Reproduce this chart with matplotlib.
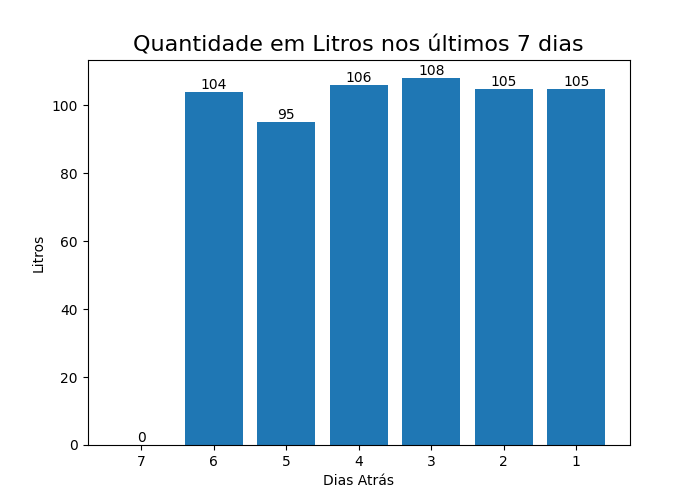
import matplotlib
matplotlib.use("Agg")
import matplotlib.pyplot as plt

# dias atras e litros consumidos
dias = ['7', '6', '5', '4', '3', '2', '1']
litros = [0, 104, 95, 106, 108, 105, 105]

fig, ax = plt.subplots(figsize=(7, 5), dpi=100)
bars = ax.bar(dias, litros)
ax.bar_label(bars)

ax.set_title('Quantidade em Litros nos últimos 7 dias', fontsize=16)
ax.set_xlabel('Dias Atrás')
ax.set_ylabel('Litros')

fig.savefig('out.png')
